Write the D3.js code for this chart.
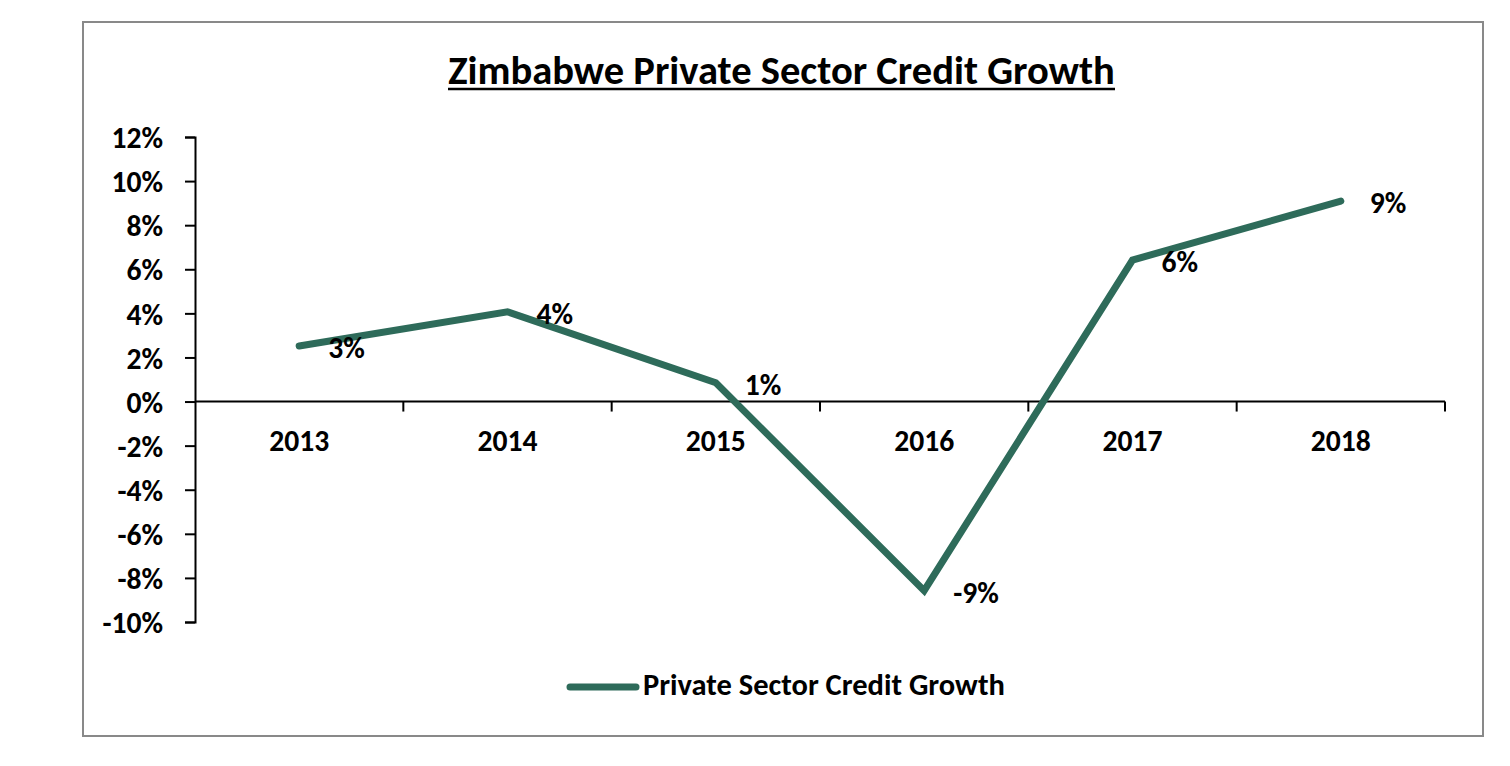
<!DOCTYPE html>
<html>
<head>
<meta charset="utf-8">
<script src="https://cdn.jsdelivr.net/npm/d3@7"></script>
<style>
  html, body { margin: 0; padding: 0; background: #fff; }
  text { font-family: Carlito, Lato, "Open Sans", sans-serif; font-weight: bold; fill: #000; }
</style>
</head>
<body>
<svg id="chart" width="1510" height="766"></svg>
<script>
const title = "Zimbabwe Private Sector Credit Growth";
const seriesName = "Private Sector Credit Growth";
const years = ["2013", "2014", "2015", "2016", "2017", "2018"];
const growth = [0.0252, 0.0407, 0.0085, -0.0858, 0.0642, 0.0909];
const yTicks = [-0.10, -0.08, -0.06, -0.04, -0.02, 0, 0.02, 0.04, 0.06, 0.08, 0.10, 0.12];

const svg = d3.select("#chart");
const lineColor = "#2E6B5A";
const pct = v => d3.format(".0%")(v).replace("\u2212", "-");

// frame
svg.append("rect").attr("x", 83).attr("y", 22).attr("width", 1400).attr("height", 714)
  .attr("fill", "#fff").attr("stroke", "#898989").attr("stroke-width", 2);

const left = 195, right = 1445;
const x = d3.scaleBand().domain(years).range([left, right]);
const y = d3.scaleLinear().domain([-0.10, 0.12]).range([622, 137]);

function fit(sel, target) {
  const node = sel.node();
  const base = 20;
  sel.style("font-size", base + "px");
  const w = node.getComputedTextLength();
  const size = base * target / w;
  sel.style("font-size", size + "px");
  return size;
}

// title
const t = svg.append("text").attr("x", 781.5).attr("y", 84).attr("text-anchor", "middle").text(title);
fit(t, 667);
svg.append("line").attr("x1", 448).attr("x2", 1115).attr("y1", 89).attr("y2", 89)
  .attr("stroke", "#000").attr("stroke-width", 2.5);

// measure label size from "2013"
const probe = svg.append("text").text("2013");
const labelSize = fit(probe, 60);
probe.remove();

// y axis
const yAxis = svg.append("g").attr("transform", `translate(${left},0)`)
  .call(d3.axisLeft(y).tickValues(yTicks).tickSize(10).tickPadding(22).tickFormat(pct));
yAxis.select(".domain").attr("stroke", "#000").attr("stroke-width", 2);
yAxis.selectAll(".tick line").attr("stroke", "#000").attr("stroke-width", 2);
yAxis.selectAll(".tick text").style("font-size", labelSize + "px")
  .style("font-family", "Carlito, Lato, 'Open Sans', sans-serif").style("font-weight", "bold")
  .attr("fill", "#000").attr("dy", "0.36em");

// x axis line at zero
const zeroY = y(0);
svg.append("line").attr("x1", left).attr("x2", right).attr("y1", zeroY).attr("y2", zeroY)
  .attr("stroke", "#000").attr("stroke-width", 2);
const bounds = years.map(d => x(d)).concat([right]);
svg.append("g").selectAll("line").data(bounds.slice(1)).join("line")
  .attr("x1", d => d).attr("x2", d => d).attr("y1", zeroY).attr("y2", zeroY + 10)
  .attr("stroke", "#000").attr("stroke-width", 2);
svg.append("g").selectAll("text").data(years).join("text")
  .attr("x", d => x(d) + x.bandwidth() / 2).attr("y", zeroY + 49)
  .attr("text-anchor", "middle").style("font-size", labelSize + "px").text(d => d);

// line
const pts = years.map((d, i) => [x(d) + x.bandwidth() / 2, y(growth[i])]);
svg.append("path").datum(pts).attr("d", d3.line())
  .attr("fill", "none").attr("stroke", lineColor).attr("stroke-width", 7)
  .attr("stroke-linecap", "round").attr("stroke-linejoin", "miter");

// data labels
svg.append("g").selectAll("text").data(pts).join("text")
  .attr("x", d => d[0] + 29).attr("y", d => d[1] + 12)
  .style("font-size", labelSize + "px").text((d, i) => pct(growth[i]));

// legend
svg.append("line").attr("x1", 570).attr("x2", 636).attr("y1", 687).attr("y2", 687)
  .attr("stroke", lineColor).attr("stroke-width", 7).attr("stroke-linecap", "round");
const lt = svg.append("text").attr("x", 643).attr("y", 695).text(seriesName);
fit(lt, 362);
</script>
</body>
</html>
